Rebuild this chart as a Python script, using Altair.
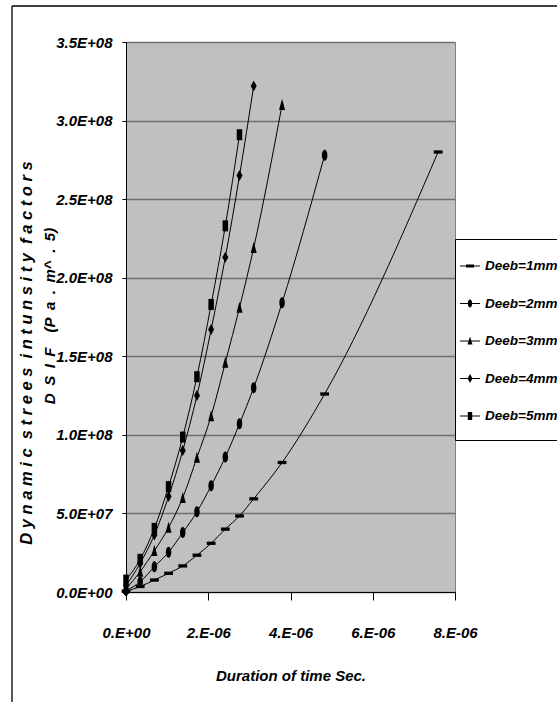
import altair as alt
import pandas as pd

SERIES = ["Deeb=1mm", "Deeb=2mm", "Deeb=3mm", "Deeb=4mm", "Deeb=5mm"]

# time in seconds, values in Pa*m^0.5
T_1MM = [0, 0.345e-6, 0.69e-6, 1.035e-6, 1.38e-6, 1.725e-6, 2.07e-6, 2.415e-6, 2.76e-6, 3.105e-6, 3.795e-6, 4.83e-6, 7.59e-6]
V_1MM = [0.5e6, 3.5e6, 7.6e6, 1.19e7, 1.66e7, 2.34e7, 3.10e7, 4.0e7, 4.84e7, 5.93e7, 8.24e7, 1.26e8, 2.80e8]

T_2MM = [0, 0.345e-6, 0.69e-6, 1.035e-6, 1.38e-6, 1.725e-6, 2.07e-6, 2.415e-6, 2.76e-6, 3.105e-6, 3.795e-6, 4.83e-6]
V_2MM = [1.0e6, 6.5e6, 1.61e7, 2.53e7, 3.78e7, 5.1e7, 6.76e7, 8.59e7, 1.07e8, 1.30e8, 1.84e8, 2.78e8]

T_3MM = [0, 0.345e-6, 0.69e-6, 1.035e-6, 1.38e-6, 1.725e-6, 2.07e-6, 2.415e-6, 2.76e-6, 3.105e-6, 3.795e-6]
V_3MM = [2.0e6, 1.3e7, 2.62e7, 4.1e7, 6.0e7, 8.56e7, 1.12e8, 1.46e8, 1.81e8, 2.19e8, 3.10e8]

T_4MM = [0, 0.345e-6, 0.69e-6, 1.035e-6, 1.38e-6, 1.725e-6, 2.07e-6, 2.415e-6, 2.76e-6, 3.105e-6]
V_4MM = [4.0e6, 1.83e7, 3.63e7, 6.07e7, 9.0e7, 1.25e8, 1.67e8, 2.13e8, 2.65e8, 3.22e8]

T_5MM = [0, 0.345e-6, 0.69e-6, 1.035e-6, 1.38e-6, 1.725e-6, 2.07e-6, 2.415e-6, 2.76e-6]
V_5MM = [7.6e6, 2.08e7, 4.05e7, 6.71e7, 9.86e7, 1.37e8, 1.83e8, 2.33e8, 2.91e8]

X_TICKS = [0, 2e-6, 4e-6, 6e-6, 8e-6]
Y_TICKS = [0, 5e7, 1e8, 1.5e8, 2e8, 2.5e8, 3e8, 3.5e8]

X_TITLE = "Duration of time Sec."
Y_TITLE = "D y n a m i c \u00a0s t r e e s \u00a0i n t u n s i t y \u00a0f a c t o r s"
Y_SUBTITLE = "\u2002".join(["D", "S", "I", "F", "\u2002(P", "a", ".", "m^", ".", "5)"])

rows = []
for name, ts, vs in zip(SERIES, [T_1MM, T_2MM, T_3MM, T_4MM, T_5MM],
                        [V_1MM, V_2MM, V_3MM, V_4MM, V_5MM]):
    for t, v in zip(ts, vs):
        rows.append({"series": name, "t": t, "v": v})
df = pd.DataFrame(rows)

FONT = "Liberation Sans, Arial, Helvetica, sans-serif"

# marker shapes on the plot (tall, like the stretched original)
MARKERS = [
    "M-0.8,-0.3H0.8V0.3H-0.8Z",
    "M0,-1A0.5,1 0 1,1 0,1A0.5,1 0 1,1 0,-1Z",
    "M0,-1.1L0.55,0.95L-0.55,0.95Z",
    "M0,-1L0.55,0L0,1L-0.55,0Z",
    "M-0.5,-1H0.5V1H-0.5Z",
]
LINE = "M-1,-0.06H1V0.06H-1Z "
LEGEND_MARKERS = [
    LINE + "M-0.4,-0.15H0.4V0.15H-0.4Z",
    LINE + "M0,-0.4A0.22,0.4 0 1,1 0,0.4A0.22,0.4 0 1,1 0,-0.4Z",
    LINE + "M0,-0.45L0.25,0.35L-0.25,0.35Z",
    LINE + "M0,-0.45L0.25,0L0,0.45L-0.25,0Z",
    LINE + "M-0.22,-0.4H0.22V0.4H-0.22Z",
]

x_enc = alt.X(
    "t:Q",
    scale=alt.Scale(domain=[0, 8e-6], nice=False),
    axis=alt.Axis(
        values=X_TICKS,
        labelExpr="datum.value == 0 ? '0.E+00' : format(datum.value * 1e6, '.0f') + '.E-06'",
        title=X_TITLE,
        grid=False,
        tickSize=8,
        labelPadding=25,
        labelFlush=False,
        labelOverlap=False,
        titlePadding=28,
    ),
)
y_enc = alt.Y(
    "v:Q",
    scale=alt.Scale(domain=[0, 3.5e8], nice=False),
    axis=alt.Axis(
        values=Y_TICKS,
        labelExpr="datum.value == 0 ? '0.0E+00' : (datum.value < 1e8 ? format(datum.value / 1e7, '.1f') + 'E+07' : format(datum.value / 1e8, '.1f') + 'E+08')",
        title=None,
        grid=True,
        tickSize=4,
        labelPadding=10,
        labelFlush=False,
        labelOverlap=False,
    ),
)

base = alt.Chart(df)

lines = base.mark_line(color="black", strokeWidth=1, interpolate="monotone").encode(
    x=x_enc, y=y_enc, detail="series:N"
)

points = base.mark_point(filled=True, color="black", opacity=1, size=121, strokeWidth=0).encode(
    x="t:Q",
    y="v:Q",
    shape=alt.Shape("series:N", scale=alt.Scale(domain=SERIES, range=MARKERS), legend=None),
)

legend_layer = base.transform_filter("datum.v < 0").mark_point(
    filled=True, color="black", opacity=1, size=400, strokeWidth=0
).encode(
    x="t:Q",
    y="v:Q",
    shape=alt.Shape(
        "series:N",
        scale=alt.Scale(domain=SERIES, range=LEGEND_MARKERS),
        legend=alt.Legend(
            title=None,
            orient="none",
            legendX=329,
            legendY=197,
            padding=17,
            symbolOffset=-12,
            labelOffset=5,
            rowPadding=20.5,
            symbolSize=400,
            symbolFillColor="black",
            symbolStrokeWidth=0,
            labelFont=FONT,
            labelFontSize=13.5,
            labelFontStyle="italic",
            labelFontWeight="bold",
            labelColor="black",
            strokeColor="black",
            fillColor="white",
            labelLimit=300,
        ),
    ),
)

one = pd.DataFrame({"k": [0]})
frame_left = alt.Chart(one).mark_rule(color="black", strokeWidth=1.3).encode(
    x=alt.value(-114), y=alt.value(-36), y2=alt.value(700)
)
frame_top = alt.Chart(one).mark_rule(color="black", strokeWidth=1.3).encode(
    x=alt.value(-114), x2=alt.value(500), y=alt.value(-36)
)
ytitle = alt.Chart(one).mark_text(
    angle=270, font=FONT, fontSize=16.5, fontStyle="italic", fontWeight="bold", color="black",
    baseline="middle", align="center",
).encode(x=alt.value(-99), y=alt.value(311), text=alt.value(Y_TITLE))
ysub = alt.Chart(one).mark_text(
    angle=270, font=FONT, fontSize=15, fontStyle="italic", fontWeight="bold", color="black",
    baseline="middle", align="center",
).encode(x=alt.value(-76), y=alt.value(274), text=alt.value(Y_SUBTITLE))

chart = (
    alt.layer(lines, points, legend_layer, frame_left, frame_top, ytitle, ysub)
    .resolve_scale(shape="independent")
    .properties(
        width=329,
        height=550,
        autosize=alt.AutoSizeParams(type="none"),
        padding={"left": 126, "top": 42, "right": 102, "bottom": 110},
        background="white",
    )
    .configure_view(fill="#C0C0C0", stroke="#808080", strokeWidth=1)
    .configure_axis(
        labelFont=FONT,
        labelFontSize=15,
        labelFontStyle="italic",
        labelFontWeight="bold",
        labelColor="black",
        titleFont=FONT,
        titleFontSize=15,
        titleFontStyle="italic",
        titleFontWeight="bold",
        titleColor="black",
        domainColor="black",
        domainWidth=1,
        tickColor="black",
        tickWidth=1,
        gridColor="#707070",
        gridWidth=1.5,
    )
)

chart.save("out.html", embed_options={"renderer": "svg", "actions": False})
